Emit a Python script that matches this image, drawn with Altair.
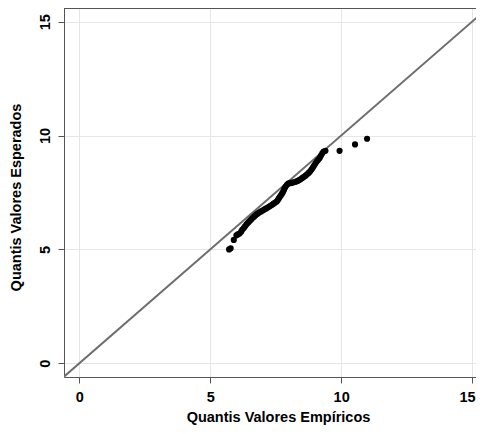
import altair as alt
import pandas as pd

emp = [5.72, 5.78, 5.90, 6.00, 6.05, 6.12, 6.18, 6.22, 6.28, 6.33, 6.38, 6.42,
       6.47, 6.52, 6.57, 6.62, 6.67, 6.72, 6.77, 6.82, 6.88, 6.94, 7.00, 7.06,
       7.12, 7.18, 7.24, 7.30, 7.36, 7.42, 7.48, 7.54, 7.58, 7.62, 7.66, 7.70,
       7.74, 7.78, 7.81, 7.84, 7.88, 7.93, 7.98, 8.04, 8.10, 8.16, 8.22, 8.28,
       8.34, 8.40, 8.46, 8.52, 8.58, 8.64, 8.70, 8.76, 8.81, 8.86, 8.91, 8.96,
       9.01, 9.06, 9.12, 9.18, 9.23, 9.28, 9.33, 9.40, 9.94, 10.53, 10.99]
esp = [5.00, 5.05, 5.42, 5.62, 5.66, 5.70, 5.78, 5.86, 5.94, 6.02, 6.09, 6.15,
       6.21, 6.27, 6.33, 6.39, 6.44, 6.49, 6.54, 6.58, 6.63, 6.67, 6.71, 6.75,
       6.79, 6.83, 6.87, 6.92, 6.96, 7.01, 7.06, 7.10, 7.17, 7.24, 7.31, 7.38,
       7.45, 7.52, 7.60, 7.68, 7.76, 7.84, 7.89, 7.91, 7.92, 7.94, 7.96, 7.98,
       8.01, 8.05, 8.09, 8.14, 8.19, 8.24, 8.30, 8.36, 8.42, 8.50, 8.58, 8.67,
       8.76, 8.85, 8.93, 9.02, 9.12, 9.22, 9.30, 9.33, 9.33, 9.61, 9.86]

# reference line y = x
line_x = [-1, 17]
line_y = [-1, 17]

ticks = [0, 5, 10, 15]

pts = pd.DataFrame({"x": emp, "y": esp})
ref = pd.DataFrame({"x": line_x, "y": line_y})

FONT = "Liberation Sans"
W, H = 412, 369
FRAME = "#555555"

xscale = alt.Scale(domain=[-0.585, 15.15], nice=False, zero=False)
yscale = alt.Scale(domain=[-0.6, 15.6], nice=False, zero=False)

xaxis = alt.Axis(values=ticks, title="Quantis Valores Empíricos", format="d",
                 grid=True, gridColor="#e6e6e6", gridWidth=1,
                 domainColor=FRAME, tickColor=FRAME, tickSize=6,
                 labelFont=FONT, labelFontSize=14.5, labelFontWeight="bold",
                 labelColor="#000000", labelPadding=7, labelFlush=False,
                 labelOffset={"condition": {"test": "datum.value == 15", "value": -5},
                              "value": 0},
                 titleFont=FONT, titleFontSize=14.5, titleFontWeight="bold",
                 titleColor="#000000", titlePadding=7, titleX=214)
yaxis = alt.Axis(values=ticks, title="Quantis Valores Esperados", format="d",
                 grid=True, gridColor="#e6e6e6", gridWidth=1,
                 domainColor=FRAME, tickColor=FRAME, tickSize=6,
                 labelFont=FONT, labelFontSize=14.5, labelFontWeight="bold",
                 labelColor="#000000", labelAngle=270, labelAlign="center",
                 labelBaseline="bottom", labelPadding=6, labelFlush=False,
                 titleFont=FONT, titleFontSize=14.5, titleFontWeight="bold",
                 titleColor="#000000", titlePadding=14, titleY=189)

line = alt.Chart(ref).mark_line(color="#6e6e6e", strokeWidth=2, clip=True).encode(
    x=alt.X("x:Q", scale=xscale, axis=xaxis),
    y=alt.Y("y:Q", scale=yscale, axis=yaxis),
)

points = alt.Chart(pts).mark_circle(color="#000000", size=38, opacity=1).encode(
    x=alt.X("x:Q", scale=xscale),
    y=alt.Y("y:Q", scale=yscale),
)

# top edge of the plot frame (the right edge is cut off in the reference)
top_edge = alt.Chart(pd.DataFrame({"k": [0]})).mark_rule(color=FRAME, strokeWidth=1).encode(
    x=alt.value(0), x2=alt.value(W), y=alt.value(0.5)
)

chart = (line + points + top_edge).properties(
    width=W, height=H,
    autosize=alt.AutoSizeParams(type="none"),
    padding={"left": 56, "top": 0, "right": 0, "bottom": 49},
).configure_view(stroke=None).configure(background="white")

chart.save("out.html", embed_options={"renderer": "svg", "actions": False})
